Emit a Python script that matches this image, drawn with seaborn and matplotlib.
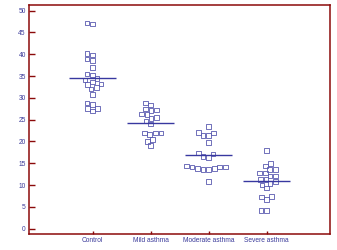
import numpy as np
import pandas as pd
import matplotlib
matplotlib.use("Agg")
import matplotlib.pyplot as plt
import seaborn as sns

groups = ["Control", "Mild asthma", "Moderate asthma", "Severe asthma"]

control = [46.9, 47.2, 39.8, 40.2, 38.5, 38.9, 36.9, 35.2, 35.5, 34.1, 34.4,
           33.2, 33.6, 33.0, 32.4, 32.0, 30.8, 28.5, 28.8, 27.0, 27.5, 27.5]
mild = [28.8, 28.4, 27.1, 27.2, 27.4, 26.2, 26.3, 25.5, 25.3, 24.7, 24.0,
        21.6, 21.9, 21.9, 21.9, 20.5, 20.0, 19.0]
moderate = [23.4, 21.9, 22.0, 21.3, 21.3, 19.7, 17.1, 17.3, 16.3, 16.5, 14.4,
            13.6, 13.6, 13.8, 13.8, 14.1, 14.1, 14.1, 10.8]
severe = [17.9, 15.0, 14.4, 13.6, 13.6, 12.8, 12.8, 12.1, 12.1, 11.2, 11.3,
          10.8, 10.3, 10.0, 9.3, 6.7, 7.2, 7.3, 4.1, 4.1]

df = pd.DataFrame({
    "group": [groups[0]] * len(control) + [groups[1]] * len(mild)
             + [groups[2]] * len(moderate) + [groups[3]] * len(severe),
    "value": control + mild + moderate + severe,
})

spine_col = "#8b0a0a"
text_col = "#3a3a9a"
mark_col = "#5a5ab0"

plt.rcParams["font.family"] = ["Liberation Sans", "DejaVu Sans"]
fig = plt.figure(figsize=(3.37, 2.5), dpi=100)
ax = fig.add_axes([0.087, 0.063, 0.892, 0.917])

sns.swarmplot(data=df, x="group", y="value", order=groups, marker="s",
              size=3.3, color=mark_col, linewidth=0.6, ax=ax)
for coll in ax.collections:
    coll.set_facecolor("none")
    coll.set_edgecolor(mark_col)

means = df.groupby("group")["value"].mean().reindex(groups)
ax.hlines(means.values, np.arange(4) - 0.4, np.arange(4) + 0.4,
          color="#3838a0", lw=1.0, zorder=3)

ax.set_xlim(-1.09, 4.09)
ax.set_ylim(-1.3, 51.3)
ax.set_yticks(range(0, 51, 5))
ax.set_xlabel("")
ax.set_ylabel("")
for s in ax.spines.values():
    s.set_color(spine_col)
    s.set_linewidth(1.1)
ax.tick_params(axis="y", direction="in", length=4, width=1, color=spine_col,
               labelsize=4.8, labelcolor=text_col, pad=2.5)
ax.tick_params(axis="x", direction="in", length=2.5, width=1, color=spine_col,
               labelsize=4.8, labelcolor=text_col, pad=2)

fig.savefig("out.png", dpi=100)
